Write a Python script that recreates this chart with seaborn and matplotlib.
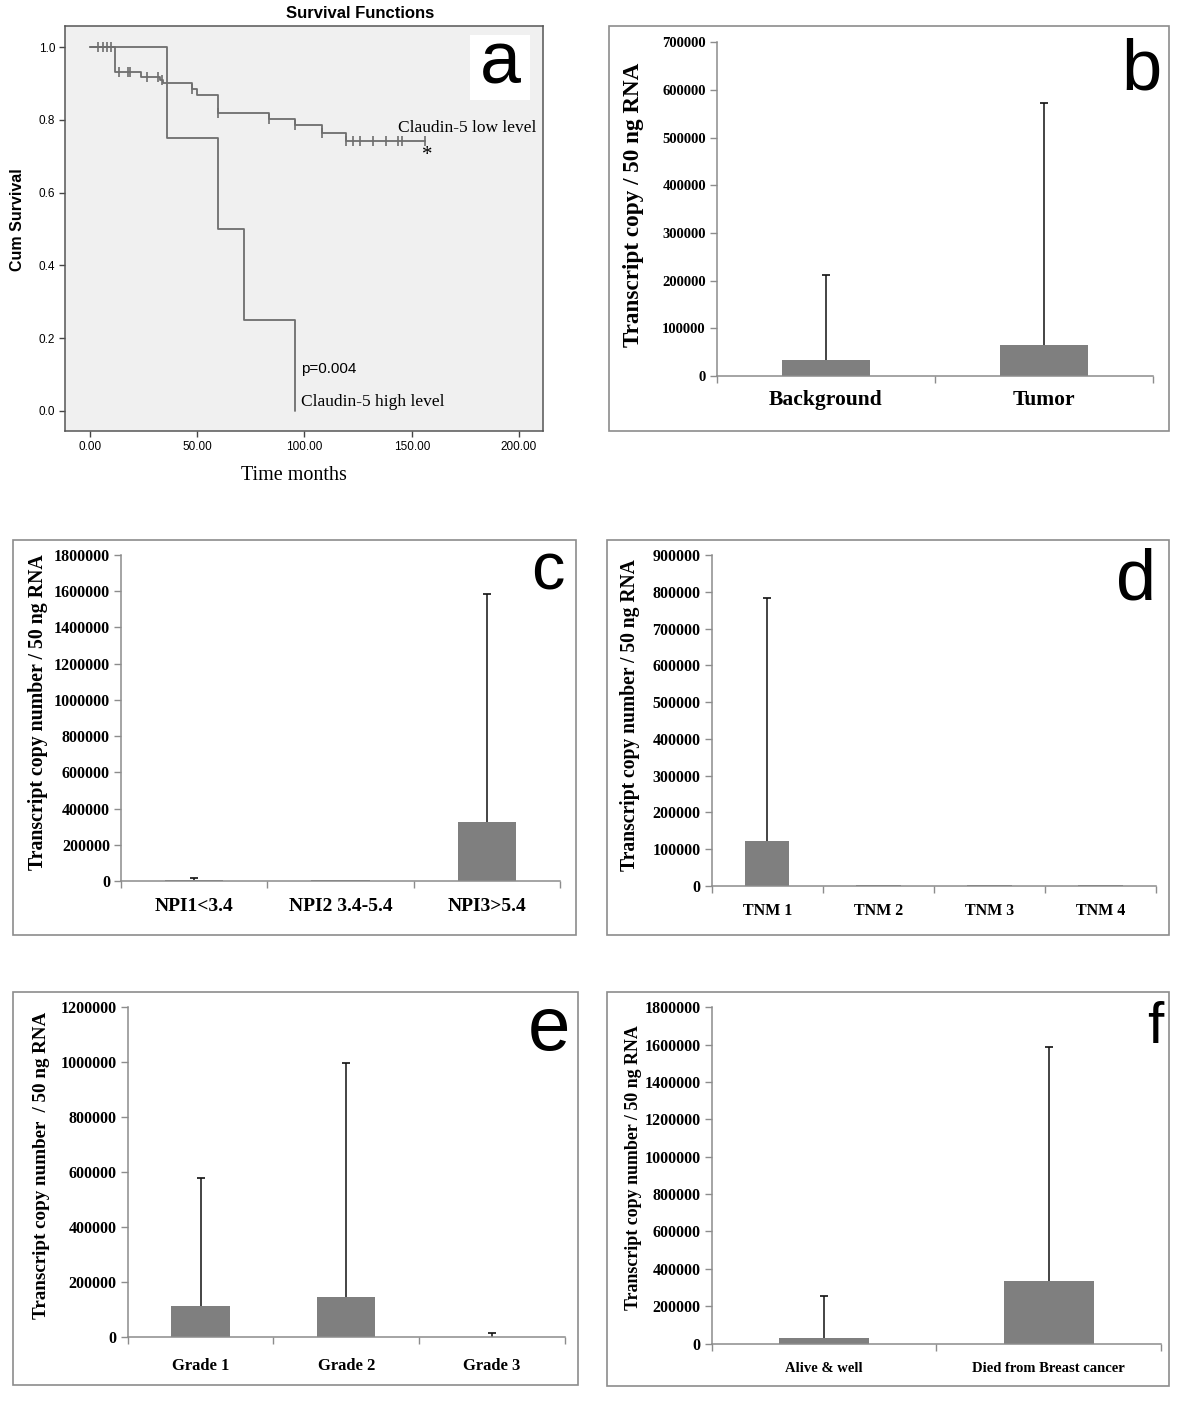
import numpy as np
import pandas as pd
import matplotlib
matplotlib.use("Agg")
import matplotlib.pyplot as plt
from matplotlib.patches import Rectangle
import seaborn as sns

# ---------------- data ----------------
# Panel a: Kaplan-Meier (months, cumulative survival)
low_times = [0, 11.7, 23.8, 32.5, 34.0, 47.5, 49.7, 59.8, 83.5, 95.5, 108.0, 119.5, 156.2]
low_surv = [1.0, 0.932, 0.918, 0.909, 0.902, 0.885, 0.868, 0.820, 0.803, 0.785, 0.765, 0.743, 0.743]
low_censored = [3.9, 5.9, 7.7, 9.6, 13.6, 17.5, 18.6, 26.7, 31.5, 33.7, 47.5, 59.8, 83.5,
                95.5, 108.0, 119.5, 122.4, 125.9, 132.1, 138.0, 143.8, 145.3, 156.2]
high_times = [0, 35.7, 59.8, 71.8, 95.5]
high_surv = [1.0, 0.75, 0.50, 0.25, 0.0]
km_xticks = [0, 50, 100, 150, 200]
km_yticks = [0.0, 0.2, 0.4, 0.6, 0.8, 1.0]

# Panel b
b_cats = ["Background", "Tumor"]
b_mean = [34000, 66000]
b_upper = [211000, 573000]
# Panel c
c_cats = ["NPI1<3.4", "NPI2 3.4-5.4", "NPI3>5.4"]
c_mean = [6000, 4000, 327000]
c_upper = [17000, 4000, 1585000]
# Panel d
d_cats = ["TNM 1", "TNM 2", "TNM 3", "TNM 4"]
d_mean = [122000, 2500, 2000, 2000]
d_upper = [782000, 2500, 2000, 2000]
# Panel e
e_cats = ["Grade 1", "Grade 2", "Grade 3"]
e_mean = [114000, 147000, 1500]
e_upper = [581000, 996000, 14500]
# Panel f
f_cats = ["Alive & well", "Died from Breast cancer"]
f_mean = [27000, 333000]
f_upper = [255000, 1586000]

# ---------------- style ----------------
sns.set_theme(style="white")
plt.rcParams["font.family"] = ["Liberation Serif", "DejaVu Serif"]
for k in ["text.color", "axes.labelcolor", "xtick.color", "ytick.color"]:
    plt.rcParams[k] = "black"
SERIF = ["Liberation Serif", "DejaVu Serif"]
SANS = ["Liberation Sans", "DejaVu Sans"]
BAR = "#7f7f7f"
AXC = "#8c8c8c"
KM = "#6e6e6e"

W, H = 1200, 1426
fig = plt.figure(figsize=(W / 100, H / 100), dpi=100)
fig.patch.set_facecolor("white")


def box(l, t, r, b):
    return [l / W, 1 - b / H, (r - l) / W, (b - t) / H]


def ftext(x, y, s, **kw):
    fig.text(x / W, 1 - y / H, s, **kw)


def frame(l, t, r, b, color="#8c8c8c", lw=1.2):
    fig.patches.append(Rectangle((l / W, 1 - b / H), (r - l) / W, (b - t) / H,
                                 transform=fig.transFigure, fill=False,
                                 ec=color, lw=lw, zorder=0))


# ---------------- panel a ----------------
axa = fig.add_axes(box(65, 26, 543, 431))
axa.set_facecolor("#f0f0f0")
sns.lineplot(x=low_times, y=low_surv, drawstyle="steps-post", color=KM, lw=1.3,
             estimator=None, sort=False, ax=axa)
sns.lineplot(x=high_times, y=high_surv, drawstyle="steps-post", color=KM, lw=1.3,
             estimator=None, sort=False, ax=axa)
lt = np.array(low_times)
ls = np.array(low_surv)
cens = np.array(low_censored)
cens_y = ls[np.searchsorted(lt, cens, side="right") - 1]
sns.scatterplot(x=cens, y=cens_y, marker="|", s=45, color=KM, linewidth=1.2, ax=axa)
axa.set_xlim(-11.66, 211.2)
axa.set_ylim(-0.055, 1.058)
axa.set_xticks(km_xticks)
axa.set_xticklabels([f"{v:.2f}" for v in km_xticks], family=SANS, fontsize=8.5)
axa.set_yticks(km_yticks)
axa.set_yticklabels([f"{v:.1f}" for v in km_yticks], family=SANS, fontsize=8.5)
axa.tick_params(axis="both", direction="out", length=4, width=1, color="#444444",
                labelcolor="black", pad=3, bottom=True, left=True)
for sp in axa.spines.values():
    sp.set_color("#555555")
    sp.set_linewidth(1.1)
axa.set_xlabel("")
axa.set_ylabel("")
axa.text(143.6, 0.778, "Claudin-5 low level", family=SERIF, fontsize=12.5,
         ha="left", va="center")
axa.text(157.1, 0.702, "*", family=SERIF, fontsize=15, ha="center", va="center")
axa.text(98.4, 0.115, "p=0.004", family=SANS, fontsize=11, ha="left", va="center")
axa.text(98.4, 0.025, "Claudin-5 high level", family=SERIF, fontsize=12.5,
         ha="left", va="center")
ftext(360, 13, "Survival Functions", family=SANS, fontsize=12, fontweight="bold",
      ha="center", va="center")
ftext(18, 220, "Cum Survival", family=SANS, fontsize=11.5, fontweight="bold",
      rotation=90, ha="center", va="center")
ftext(294, 476, "Time months", family=SERIF, fontsize=14.5, ha="center", va="center")
fig.patches.append(Rectangle((470 / W, 1 - 100 / H), 60 / W, 65 / H,
                             transform=fig.transFigure, fc="white", ec="none", zorder=3))
ftext(500, 83, "a", family=SANS, fontsize=53, ha="center", va="baseline", zorder=4)


# ---------------- bar panels ----------------
def bar_panel(ax_px, frame_px, cats, means, uppers, ymax, ystep, ylab, ylab_xy,
              ylab_size, ytick_size, xtick_size, xpad, letter, letter_xy, letter_size):
    frame(*frame_px)
    ax = fig.add_axes(box(*ax_px))
    n = len(cats)
    df = pd.DataFrame({"cat": cats, "val": means})
    sns.barplot(data=df, x="cat", y="val", color=BAR, width=0.4, saturation=1,
                errorbar=None, linewidth=0, ax=ax)
    m = np.array(means, dtype=float)
    u = np.array(uppers, dtype=float)
    err = u - m
    x = np.arange(n)
    mask = err > 0
    if mask.any():
        ax.errorbar(x[mask], m[mask], yerr=[np.zeros(mask.sum()), err[mask]], fmt="none",
                    ecolor="#111111", elinewidth=1.1, capsize=0)
        ax.plot(x[mask], u[mask], linestyle="none", marker="_", markersize=6,
                markeredgewidth=1.2, color="#111111")
    ax.set_xlim(-0.5, n - 0.5)
    ax.set_ylim(0, ymax)
    yt = np.arange(0, ymax + 1, ystep)
    ax.set_yticks(yt)
    ax.set_yticklabels([str(int(v)) for v in yt], family=SERIF, fontweight="bold",
                       fontsize=ytick_size)
    ax.set_xticks(np.arange(n + 1) - 0.5)
    ax.set_xticklabels([""] * (n + 1))
    ax.set_xticks(x, minor=True)
    ax.set_xticklabels(cats, minor=True, family=SERIF, fontweight="bold",
                       fontsize=xtick_size)
    ax.tick_params(axis="y", direction="out", length=5, width=1, color=AXC, pad=3,
                   left=True, labelcolor="black")
    ax.tick_params(axis="x", which="major", direction="out", length=5, width=1,
                   color=AXC, bottom=True)
    ax.tick_params(axis="x", which="minor", length=0, pad=xpad, bottom=True,
                   labelcolor="black")
    for s in ["top", "right"]:
        ax.spines[s].set_visible(False)
    for s in ["left", "bottom"]:
        ax.spines[s].set_color(AXC)
        ax.spines[s].set_linewidth(1.1)
    ax.set_xlabel("")
    ax.set_ylabel("")
    ftext(ylab_xy[0], ylab_xy[1], ylab, family=SERIF, fontweight="bold",
          fontsize=ylab_size, rotation=90, ha="center", va="center")
    ftext(letter_xy[0], letter_xy[1], letter, family=SANS, fontsize=letter_size,
          ha="center", va="baseline", color="black")
    return ax


bar_panel((717, 42.3, 1153, 376), (609, 26, 1169, 431), b_cats, b_mean, b_upper,
          700000, 100000, "Transcript copy / 50 ng RNA", (633, 205), 16.7, 10.5, 15.5, 10,
          "b", (1141, 90), 52)
bar_panel((121, 555, 560, 881), (13, 540, 576, 935), c_cats, c_mean, c_upper,
          1800000, 200000, "Transcript copy number / 50 ng RNA", (38, 712), 14.3, 11.5, 14, 12,
          "c", (548, 590), 48)
bar_panel((711.7, 555, 1156, 886), (607, 540, 1169, 935), d_cats, d_mean, d_upper,
          900000, 100000, "Transcript copy number / 50 ng RNA", (630, 715), 14.1, 11.5, 11.5, 12,
          "d", (1136, 600), 52)
bar_panel((127.7, 1007.3, 564.7, 1337.3), (13, 992, 578, 1385), e_cats, e_mean, e_upper,
          1200000, 200000, "Transcript copy number  / 50 ng RNA", (42, 1165), 13.7, 11.5, 12, 15,
          "e", (549, 1050), 55)
bar_panel((711.7, 1007.3, 1161, 1343.5), (607, 992, 1169, 1386), f_cats, f_mean, f_upper,
          1800000, 200000, "Transcript copy number / 50 ng RNA", (633, 1168), 12.9, 11.5, 10.5, 13,
          "f", (1155, 1043), 42)

fig.savefig("out.png", dpi=100, facecolor="white")
